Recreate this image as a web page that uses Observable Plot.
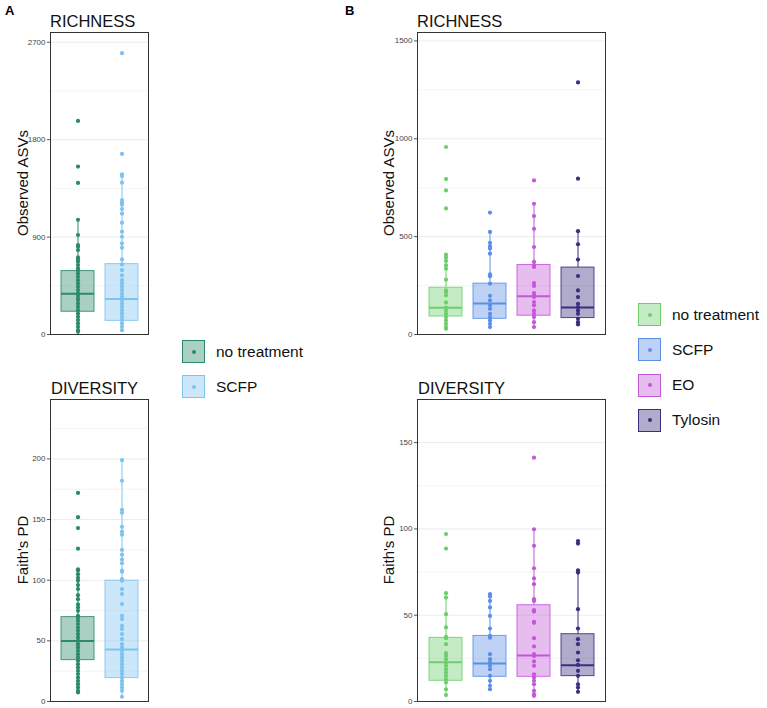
<!DOCTYPE html>
<html>
<head>
<meta charset="utf-8">
<script src="https://cdn.jsdelivr.net/npm/d3@7"></script>
<script src="https://cdn.jsdelivr.net/npm/@observablehq/plot@0.6"></script>
<style>
  body { margin: 0; background: #fff; font-family: "Liberation Sans", Arial, Helvetica, sans-serif; }
  #root { position: relative; width: 767px; height: 708px; overflow: hidden; background: #fff; }
  .abs { position: absolute; }
  .plot { position: absolute; }
  .panel-letter { position: absolute; font-weight: bold; font-size: 13px; color: #000; }
  .title { position: absolute; font-size: 16.5px; color: #111; line-height: 1; }
  .ylab { position: absolute; font-size: 15px; color: #111; white-space: nowrap; transform: translate(-50%, -50%) rotate(-90deg); line-height: 1; }
  .leg-row { position: absolute; display: flex; align-items: center; height: 23px; }
  .leg-sw { position: relative; width: 21px; height: 21px; border: 1px solid; box-sizing: content-box; }
  .leg-dot { position: absolute; left: 50%; top: 50%; width: 4px; height: 4px; border-radius: 50%; transform: translate(-50%, -50%); }
  .leg-txt { margin-left: 11px; font-size: 15.5px; color: #111; white-space: nowrap; }
</style>
</head>
<body>
<div id="root"></div>
<script>
// ---------------- data ----------------
const groupsA = ["no treatment", "SCFP"];
const groupsB = ["no treatment", "SCFP", "EO", "Tylosin"];
const colorsA = ["#2b8a68", "#7cc3f0"];
const colorsB = ["#6ccf6c", "#5b8fe6", "#c457d8", "#3c2d80"];

// Panel A – richness (Observed ASVs)
const richA_none = [1973, 1551, 1400, 1060, 919, 826, 811, 780, 712, 694, 672, 641, 610, 589, 564, 533, 502, 472, 441, 410, 379, 364, 339, 318, 287, 256, 225, 194, 163, 133, 102, 71, 40, 25];
const richA_scfp = [2599, 1668, 1480, 1464, 1403, 1242, 1220, 1199, 1159, 1116, 1033, 950, 903, 842, 802, 694, 647, 595, 546, 502, 472, 441, 410, 379, 348, 318, 287, 256, 225, 194, 163, 133, 102, 71, 40];
const richA_q1 = [210, 126];
const richA_med = [376, 327];
const richA_q3 = [586, 650];
const richA_lo = [25, 40];
const richA_hi = [1060, 1474];
const richA_ticks = [0, 900, 1800, 2700];
const richA_minor = [450, 1350, 2250];
const richA_max = 2790;

// Panel A – diversity (Faith's PD)
const divA_none = [172, 152, 143, 126, 109, 108, 105, 102, 99.6, 96, 92.7, 87.7, 84.4, 80, 77.6, 74.8, 70.7, 69.3, 66.6, 63.8, 61, 58.3, 55.6, 52.8, 50, 47.3, 44.6, 41.8, 39, 36.3, 33.6, 30.8, 28, 25.3, 22.6, 19.8, 17, 14.3, 11.6, 8.8, 7.4];
const divA_scfp = [199, 182, 158, 155.6, 144, 140, 137.5, 125, 121, 117, 114, 108, 107, 101, 99.6, 92.7, 88.6, 80.3, 70.7, 68, 62.4, 59.7, 55.6, 51.4, 47.3, 44.6, 41.8, 39, 36.3, 33.6, 30.8, 28, 25.3, 22.6, 19.8, 17, 14.3, 11.6, 8.8, 3.9];
const divA_q1 = [34.1, 19.3];
const divA_med = [49.8, 42.9];
const divA_q3 = [69.6, 99.6];
const divA_lo = [7.4, 3.9];
const divA_hi = [109, 199];
const divA_ticks = [0, 50, 100, 150, 200];
const divA_minor = [25, 75, 125, 175, 225];
const divA_max = 249;

// Panel B – richness
const richB_none = [958, 794, 736, 644, 408, 393, 376, 353, 336, 280, 225, 217, 200, 164, 137, 123, 106, 89, 72, 55, 38, 29];
const richB_scfp = [623, 524, 468, 451, 439, 413, 307, 297, 260, 198, 174, 149, 131, 106, 89, 72, 55, 38];
const richB_eo = [787, 668, 605, 540, 447, 371, 353, 345, 263, 248, 212, 200, 191, 166, 149, 123, 106, 89, 63, 38];
const richB_tyl = [1288, 796, 528, 461, 383, 299, 225, 191, 157, 140, 123, 106, 80, 63, 51];
const richB_q1 = [92, 80, 96, 84];
const richB_med = [137, 159, 196, 138];
const richB_q3 = [239, 260, 355, 342];
const richB_lo = [29, 38, 38, 51];
const richB_hi = [408, 524, 668, 528];
const richB_ticks = [0, 500, 1000, 1500];
const richB_minor = [250, 750, 1250];
const richB_max = 1543;

// Panel B – diversity
const divB_none = [97, 88.6, 62.8, 60.2, 50.6, 42.9, 37.5, 36.7, 33.2, 28, 26.5, 24.5, 22.6, 20.7, 18.7, 16.8, 14.9, 12.9, 11, 7.1, 3.7];
const divB_scfp = [62.2, 60.8, 58.3, 54.5, 49.6, 42.3, 38, 37, 27.4, 24.5, 22.6, 20.7, 18.7, 14.9, 12, 9.1, 7.1];
const divB_eo = [141.3, 99.8, 90.2, 77.2, 71.3, 68, 59.3, 58.3, 52.9, 52.1, 46.2, 45.6, 36.7, 31.9, 27.4, 26.3, 23.2, 20.7, 15.8, 13.9, 12, 10, 6.2, 4.2, 3.3];
const divB_tyl = [93, 91.5, 76, 74.7, 53.5, 42.3, 36.1, 33.2, 28.4, 23.9, 21.2, 17.8, 14.9, 10, 8.1, 5.6];
const divB_q1 = [12, 14.3, 14.3, 14.7];
const divB_med = [22.8, 22, 26.6, 21];
const divB_q3 = [36.9, 38, 55.8, 39];
const divB_lo = [3.7, 7.1, 3.3, 5.6];
const divB_hi = [62.8, 62.2, 99.8, 75.3];
const divB_ticks = [0, 50, 100, 150];
const divB_minor = [25, 75, 125];
const divB_max = 175;

// ---------------- drawing ----------------
const root = document.getElementById("root");

function panel({groups, colors, series, q1, med, q3, lo, hi, ticks, minor, ymax, width, left, top}) {
  const stats = groups.map((g, i) => ({group: g, q1: q1[i], median: med[i], q3: q3[i], lo: lo[i], hi: hi[i]}));
  const pts = groups.flatMap((g, i) => series[i].map(v => ({group: g, value: v})));
  const chart = Plot.plot({
    width, height: 312,
    marginLeft: 50, marginRight: 2, marginTop: 5, marginBottom: 5,
    style: {fontFamily: "'Liberation Sans', Arial, sans-serif", background: "transparent"},
    x: {type: "band", domain: groups, paddingInner: 0.25, paddingOuter: 0.225, axis: null},
    y: {domain: [0, ymax], axis: null},
    color: {domain: groups, range: colors},
    marks: [
      Plot.gridY(minor, {stroke: "#f3f3f3", strokeOpacity: 1, strokeWidth: 0.8}),
      Plot.gridY(ticks, {stroke: "#e9e9e9", strokeOpacity: 1, strokeWidth: 0.9}),
      Plot.barY(stats, {x: "group", y1: "q1", y2: "q3", fill: "group", fillOpacity: 0.4, stroke: "group", strokeOpacity: 0.85, strokeWidth: 1}),
      Plot.ruleX(stats, {x: "group", y1: "lo", y2: "q1", stroke: "group", strokeWidth: 1}),
      Plot.ruleX(stats, {x: "group", y1: "q3", y2: "hi", stroke: "group", strokeWidth: 1}),
      Plot.tickY(stats, {x: "group", y: "median", stroke: "group", strokeWidth: 2}),
      Plot.dot(pts, {x: "group", y: "value", fill: "group", r: 2.1}),
      Plot.axisY(ticks, {tickSize: 3, tickPadding: 2, fontSize: 8, label: null, tickFormat: d3.format("d"), color: "#444", stroke: "#555"}),
      Plot.frame({stroke: "#333", strokeWidth: 1})
    ]
  });
  chart.classList.add("plot");
  chart.style.left = left + "px";
  chart.style.top = top + "px";
  root.appendChild(chart);
}

panel({groups: groupsA, colors: colorsA, series: [richA_none, richA_scfp], q1: richA_q1, med: richA_med, q3: richA_q3, lo: richA_lo, hi: richA_hi, ticks: richA_ticks, minor: richA_minor, ymax: richA_max, width: 150, left: 0, top: 27});
panel({groups: groupsA, colors: colorsA, series: [divA_none, divA_scfp], q1: divA_q1, med: divA_med, q3: divA_q3, lo: divA_lo, hi: divA_hi, ticks: divA_ticks, minor: divA_minor, ymax: divA_max, width: 150, left: 0, top: 394});
panel({groups: groupsB, colors: colorsB, series: [richB_none, richB_scfp, richB_eo, richB_tyl], q1: richB_q1, med: richB_med, q3: richB_q3, lo: richB_lo, hi: richB_hi, ticks: richB_ticks, minor: richB_minor, ymax: richB_max, width: 240, left: 367, top: 27});
panel({groups: groupsB, colors: colorsB, series: [divB_none, divB_scfp, divB_eo, divB_tyl], q1: divB_q1, med: divB_med, q3: divB_q3, lo: divB_lo, hi: divB_hi, ticks: divB_ticks, minor: divB_minor, ymax: divB_max, width: 240, left: 367, top: 394});

function addText(cls, text, x, y) {
  const d = document.createElement("div");
  d.className = cls;
  d.textContent = text;
  d.style.left = x + "px";
  d.style.top = y + "px";
  root.appendChild(d);
  return d;
}
addText("panel-letter", "A", 5, 3);
addText("panel-letter", "B", 345, 3);
addText("title", "RICHNESS", 50, 13);
addText("title", "RICHNESS", 417, 13);
addText("title", "DIVERSITY", 51, 380);
addText("title", "DIVERSITY", 418, 380);
addText("ylab", "Observed ASVs", 22, 183);
addText("ylab", "Observed ASVs", 388, 183);
addText("ylab", "Faith's PD", 22, 550);
addText("ylab", "Faith's PD", 388, 550);

function legend(groups, colors, x, y0, step) {
  groups.forEach((g, i) => {
    const row = document.createElement("div");
    row.className = "leg-row";
    row.style.left = x + "px";
    row.style.top = (y0 + i * step) + "px";
    const sw = document.createElement("div");
    sw.className = "leg-sw";
    const c = d3.color(colors[i]);
    const fill = d3.interpolateRgb("#ffffff", colors[i])(0.4);
    sw.style.background = fill;
    sw.style.borderColor = colors[i];
    const dot = document.createElement("div");
    dot.className = "leg-dot";
    dot.style.background = c.formatHex();
    sw.appendChild(dot);
    const t = document.createElement("span");
    t.className = "leg-txt";
    t.textContent = g;
    row.appendChild(sw);
    row.appendChild(t);
    root.appendChild(row);
  });
}
legend(groupsA, colorsA, 182, 340, 35);
legend(groupsB, colorsB, 638, 303, 35.3);
</script>
</body>
</html>
